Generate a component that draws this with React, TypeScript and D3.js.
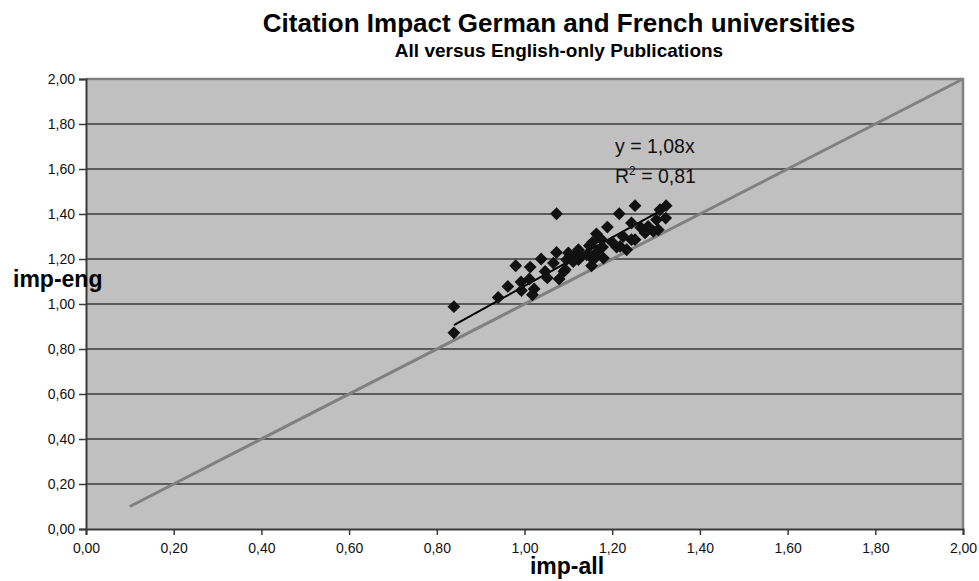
import { useEffect, useRef } from "react";
import * as d3 from "d3";

// imp-all (x) vs imp-eng (y)
const impAll = [
  0.839, 0.839, 0.94, 0.962, 0.98, 0.992, 0.993, 1.013, 1.011, 1.022, 1.018, 1.038,
  1.047, 1.052, 1.073, 1.066, 1.079, 1.09, 1.096, 1.073, 1.1, 1.111, 1.123, 1.123,
  1.142, 1.093, 1.111, 1.148, 1.157, 1.164, 1.153, 1.153, 1.18, 1.189, 1.176, 1.155,
  1.178, 1.216, 1.21, 1.225, 1.218, 1.233, 1.244, 1.252, 1.252, 1.244, 1.275, 1.282,
  1.294, 1.301, 1.309, 1.323, 1.322, 1.305, 1.165, 1.2, 1.265, 1.13,
];
const impEng = [
  0.988, 0.872, 1.029, 1.078, 1.17, 1.098, 1.06, 1.164, 1.111, 1.067, 1.041, 1.2,
  1.145, 1.116, 1.229, 1.182, 1.111, 1.145, 1.197, 1.401, 1.227, 1.212, 1.241, 1.197,
  1.219, 1.152, 1.189, 1.259, 1.197, 1.312, 1.17, 1.212, 1.204, 1.342, 1.286, 1.274,
  1.253, 1.401, 1.253, 1.3, 1.256, 1.241, 1.36, 1.437, 1.286, 1.286, 1.316, 1.345,
  1.323, 1.375, 1.419, 1.437, 1.382, 1.33, 1.23, 1.275, 1.34, 1.215,
];

const ticks = [0, 0.2, 0.4, 0.6, 0.8, 1.0, 1.2, 1.4, 1.6, 1.8, 2.0];
const slope = 1.08;
const rSquared = 0.81;
const diagonal = [0.1, 2.0];

const fmt = (v: number) => v.toFixed(2).replace(".", ",");

export default function App() {
  const ref = useRef<SVGSVGElement>(null);

  useEffect(() => {
    if (!ref.current) return;
    const svg = d3.select(ref.current);
    svg.selectAll("*").remove();

    const left = 86;
    const right = 963;
    const top = 79;
    const bottom = 529;
    const font = "Arial, 'Liberation Sans', sans-serif";

    const x = d3.scaleLinear().domain([0, 2]).range([left, right]);
    const y = d3.scaleLinear().domain([0, 2]).range([bottom, top]);

    // plot background
    svg.append("rect")
      .attr("x", left).attr("y", top)
      .attr("width", right - left).attr("height", bottom - top)
      .attr("fill", "#c0c0c0");

    // gridlines
    svg.append("g")
      .selectAll("line")
      .data(ticks.slice(1, -1))
      .join("line")
      .attr("x1", left).attr("x2", right)
      .attr("y1", (d) => y(d)).attr("y2", (d) => y(d))
      .attr("stroke", "#3a3a3a")
      .attr("stroke-width", 1.7);

    // plot border (top/right)
    svg.append("path")
      .attr("d", `M${left},${top}H${right}V${bottom}`)
      .attr("fill", "none")
      .attr("stroke", "#808080")
      .attr("stroke-width", 2.5);

    // axes
    const yAxis = svg.append("g")
      .attr("transform", `translate(${left},0)`)
      .call(d3.axisLeft(y).tickValues(ticks).tickFormat((d) => fmt(+d)).tickSize(7).tickPadding(4));
    const xAxis = svg.append("g")
      .attr("transform", `translate(0,${bottom})`)
      .call(d3.axisBottom(x).tickValues(ticks).tickFormat((d) => fmt(+d)).tickSize(6).tickPadding(8));
    [yAxis, xAxis].forEach((a) => {
      a.select(".domain").attr("stroke", "#3a3a3a").attr("stroke-width", 2);
      a.selectAll(".tick line").attr("stroke", "#3a3a3a").attr("stroke-width", 1.5);
      a.selectAll("text").attr("font-family", font).attr("font-size", 14).attr("fill", "#111");
    });

    // y = x reference line
    svg.append("line")
      .attr("x1", x(diagonal[0])).attr("y1", y(diagonal[0]))
      .attr("x2", x(diagonal[1])).attr("y2", y(diagonal[1]))
      .attr("stroke", "#808080")
      .attr("stroke-width", 3);

    // trendline through origin
    const [xmin, xmax] = d3.extent(impAll) as [number, number];
    svg.append("line")
      .attr("x1", x(xmin)).attr("y1", y(slope * xmin))
      .attr("x2", x(xmax)).attr("y2", y(slope * xmax))
      .attr("stroke", "#000")
      .attr("stroke-width", 2);

    // points
    const diamond = d3.symbol().type(d3.symbolDiamond2).size(105);
    svg.append("g")
      .selectAll("path")
      .data(impAll.map((v, i) => [v, impEng[i]]))
      .join("path")
      .attr("d", diamond)
      .attr("transform", (d) => `translate(${x(d[0])},${y(d[1])})`)
      .attr("fill", "#111");

    // equation
    const eq = svg.append("g").attr("font-family", font).attr("font-size", 19.5).attr("fill", "#111");
    eq.append("text").attr("x", 615).attr("y", 153).text(`y = ${fmt(slope)}x`);
    const r = eq.append("text").attr("x", 615).attr("y", 183);
    r.append("tspan").text("R");
    r.append("tspan").attr("font-size", 12).attr("dy", -8).text("2");
    r.append("tspan").attr("dy", 8).text(` = ${fmt(rSquared)}`);

    // titles
    svg.append("text")
      .attr("x", 559).attr("y", 32)
      .attr("text-anchor", "middle")
      .attr("font-family", font).attr("font-weight", "bold").attr("font-size", 26)
      .text("Citation Impact German and French universities");
    svg.append("text")
      .attr("x", 559).attr("y", 57)
      .attr("text-anchor", "middle")
      .attr("font-family", font).attr("font-weight", "bold").attr("font-size", 19)
      .text("All versus English-only Publications");
    svg.append("text")
      .attr("x", 13).attr("y", 287)
      .attr("font-family", font).attr("font-weight", "bold").attr("font-size", 23)
      .text("imp-eng");
    svg.append("text")
      .attr("x", 567).attr("y", 574)
      .attr("text-anchor", "middle")
      .attr("font-family", font).attr("font-weight", "bold").attr("font-size", 23)
      .text("imp-all");
  }, []);

  return (
    <div style={{ position: "absolute", left: 0, top: 0 }}>
      <svg ref={ref} width={979} height={581} style={{ display: "block", background: "#fff" }} />
    </div>
  );
}
